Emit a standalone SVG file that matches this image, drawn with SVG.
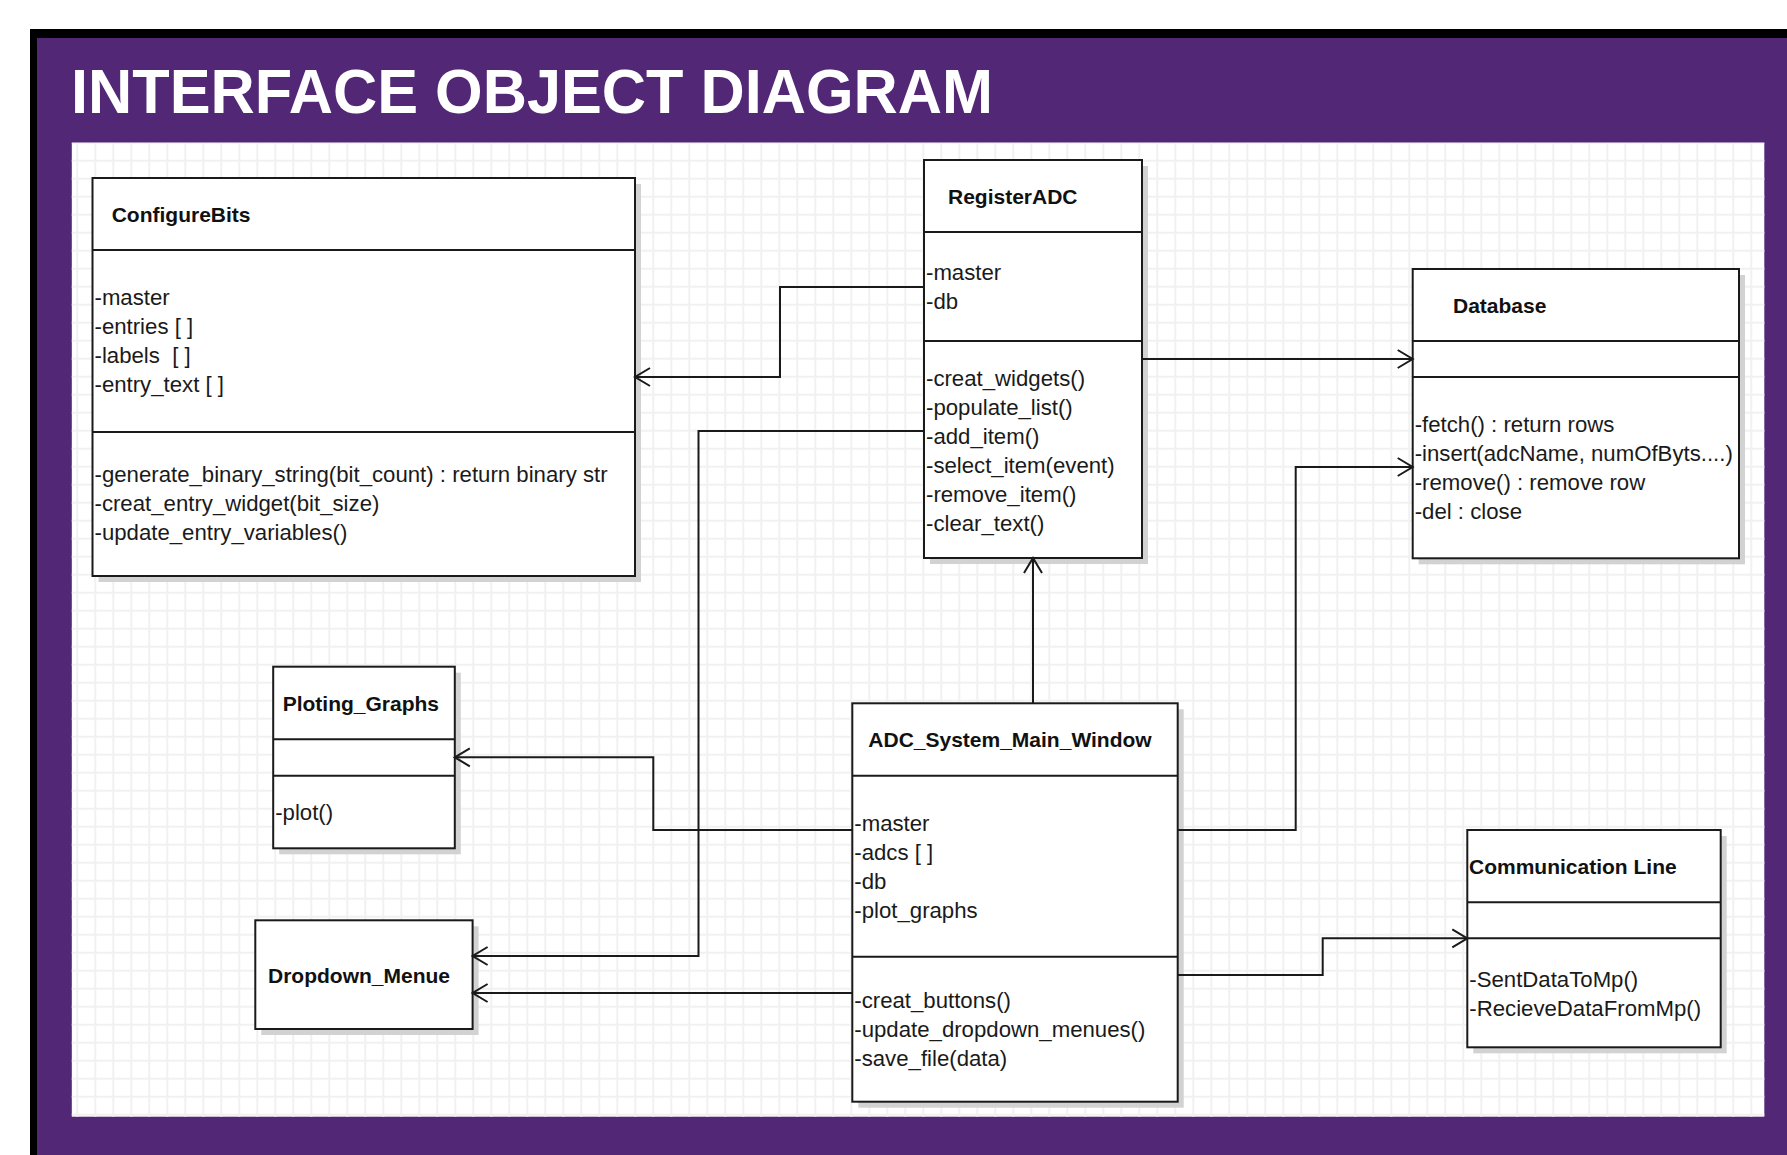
<svg xmlns="http://www.w3.org/2000/svg" width="1787" height="1155" viewBox="0 0 1787 1155">
<style>
.box{fill:#fff;stroke:#1a1a1a;stroke-width:2}
.shadow{fill:#d2d2d2}
.div{stroke:#1a1a1a;stroke-width:2}
.t{font-family:"Liberation Sans",Arial,sans-serif;font-size:21px;font-weight:bold;fill:#111}
.m{font-family:"Liberation Sans",Arial,sans-serif;font-size:22.2px;fill:#1a1a1a;white-space:pre}
.conn{fill:none;stroke:#1a1a1a;stroke-width:2;marker-end:url(#arr)}
</style>
<defs>
<pattern id="grid" patternUnits="userSpaceOnUse" x="4.3" y="15.7" width="18" height="18">
<path d="M0,1 H18 M1,0 V18" stroke="#f1f1f1" stroke-width="2" fill="none"/>
</pattern>
<marker id="arr" markerUnits="userSpaceOnUse" viewBox="-17 -11 19 22" refX="0" refY="0" markerWidth="19" markerHeight="22" orient="auto">
<path d="M-15,-9 L0,0 L-15,9" fill="none" stroke="#1a1a1a" stroke-width="2"/>
</marker>
</defs>
<rect x="0" y="0" width="1787" height="1155" fill="#fff"/>
<rect x="30" y="29" width="1757" height="1126" fill="#000"/>
<rect x="37" y="38" width="1750" height="1117" fill="#512776"/>
<text x="71" y="113.3" font-family="'Liberation Sans',Arial,sans-serif" font-size="63" font-weight="bold" fill="#fff" textLength="922" lengthAdjust="spacingAndGlyphs">INTERFACE OBJECT DIAGRAM</text>
<rect x="71.8" y="142.7" width="1692.5" height="974" fill="#fff"/>
<rect x="71.8" y="142.7" width="1692.5" height="974" fill="url(#grid)"/>

<g id="ConfigureBits">
<rect class="shadow" x="98.5" y="184" width="542.5" height="398"/>
<rect class="box" x="92.5" y="178" width="542.5" height="398"/>
<line class="div" x1="92.5" y1="250" x2="635" y2="250"/>
<line class="div" x1="92.5" y1="432" x2="635" y2="432"/>
<text class="t" x="111.7" y="221.7">ConfigureBits</text>
<text class="m" x="94.5" y="305">-master</text>
<text class="m" x="94.5" y="334">-entries [ ]</text>
<text class="m" x="94.5" y="363" xml:space="preserve">-labels  [ ]</text>
<text class="m" x="94.5" y="392">-entry_text [ ]</text>
<text class="m" x="94.5" y="482">-generate_binary_string(bit_count) : return binary str</text>
<text class="m" x="94.5" y="511">-creat_entry_widget(bit_size)</text>
<text class="m" x="94.5" y="540">-update_entry_variables()</text>
</g>

<g id="RegisterADC">
<rect class="shadow" x="930" y="166" width="218" height="398"/>
<rect class="box" x="924" y="160" width="218" height="398"/>
<line class="div" x1="924" y1="232" x2="1142" y2="232"/>
<line class="div" x1="924" y1="341" x2="1142" y2="341"/>
<text class="t" x="948" y="204">RegisterADC</text>
<text class="m" x="926" y="280">-master</text>
<text class="m" x="926" y="309">-db</text>
<text class="m" x="926" y="386">-creat_widgets()</text>
<text class="m" x="926" y="415">-populate_list()</text>
<text class="m" x="926" y="444">-add_item()</text>
<text class="m" x="926" y="473">-select_item(event)</text>
<text class="m" x="926" y="502">-remove_item()</text>
<text class="m" x="926" y="531">-clear_text()</text>
</g>

<g id="Database">
<rect class="shadow" x="1418.7" y="275" width="326.3" height="289.3"/>
<rect class="box" x="1412.7" y="269" width="326.3" height="289.3"/>
<line class="div" x1="1412.7" y1="341" x2="1739" y2="341"/>
<line class="div" x1="1412.7" y1="377" x2="1739" y2="377"/>
<text class="t" x="1453" y="313">Database</text>
<text class="m" x="1414.7" y="432">-fetch() : return rows</text>
<text class="m" x="1414.7" y="461">-insert(adcName, numOfByts....)</text>
<text class="m" x="1414.7" y="490">-remove() : remove row</text>
<text class="m" x="1414.7" y="519">-del : close</text>
</g>

<g id="Ploting_Graphs">
<rect class="shadow" x="279.2" y="672.7" width="181.6" height="181.6"/>
<rect class="box" x="273.2" y="666.7" width="181.6" height="181.6"/>
<line class="div" x1="273.2" y1="739.3" x2="454.8" y2="739.3"/>
<line class="div" x1="273.2" y1="775.7" x2="454.8" y2="775.7"/>
<text class="t" x="282.7" y="711">Ploting_Graphs</text>
<text class="m" x="275.2" y="820">-plot()</text>
</g>

<g id="ADC_System_Main_Window">
<rect class="shadow" x="858.3" y="709.3" width="325.4" height="398.4"/>
<rect class="box" x="852.3" y="703.3" width="325.4" height="398.4"/>
<line class="div" x1="852.3" y1="775.7" x2="1177.7" y2="775.7"/>
<line class="div" x1="852.3" y1="956.7" x2="1177.7" y2="956.7"/>
<text class="t" x="868.3" y="747.3">ADC_System_Main_Window</text>
<text class="m" x="854.3" y="831">-master</text>
<text class="m" x="854.3" y="860">-adcs [ ]</text>
<text class="m" x="854.3" y="889">-db</text>
<text class="m" x="854.3" y="918">-plot_graphs</text>
<text class="m" x="854.3" y="1008">-creat_buttons()</text>
<text class="m" x="854.3" y="1037">-update_dropdown_menues()</text>
<text class="m" x="854.3" y="1066">-save_file(data)</text>
</g>

<g id="Dropdown_Menue">
<rect class="shadow" x="261.3" y="926.3" width="217.3" height="108.7"/>
<rect class="box" x="255.3" y="920.3" width="217.3" height="108.7"/>
<text class="t" x="268" y="982.7">Dropdown_Menue</text>
</g>

<g id="Communication_Line">
<rect class="shadow" x="1473.3" y="836" width="253.4" height="217.3"/>
<rect class="box" x="1467.3" y="830" width="253.4" height="217.3"/>
<line class="div" x1="1467.3" y1="902.3" x2="1720.7" y2="902.3"/>
<line class="div" x1="1467.3" y1="938.3" x2="1720.7" y2="938.3"/>
<text class="t" x="1469" y="874">Communication Line</text>
<text class="m" x="1469.3" y="987">-SentDataToMp()</text>
<text class="m" x="1469.3" y="1016">-RecieveDataFromMp()</text>
</g>

<g id="connectors">
<path class="conn" d="M924,287 H780 V377 H635"/>
<path class="conn" d="M924,431 H698.5 V956 H472.6"/>
<path class="conn" d="M1142,359 H1412.7"/>
<path class="conn" d="M1033,703.3 V558"/>
<path class="conn" d="M852.3,830 H653.3 V757.3 H454.8"/>
<path class="conn" d="M852.3,993 H472.6"/>
<path class="conn" d="M1177.7,830 H1295.7 V467 H1412.7"/>
<path class="conn" d="M1177.7,975 H1322.7 V938.3 H1467.3"/>
</g>
</svg>
